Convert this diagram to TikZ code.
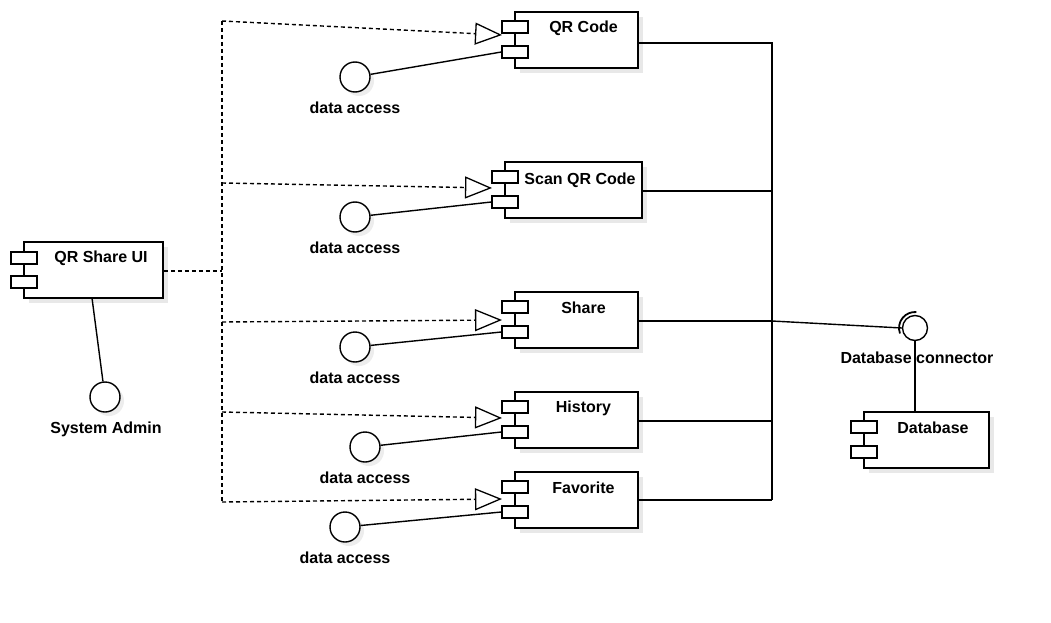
\documentclass[tikz,border=0pt]{standalone}
\usepackage{fontspec}
\setmainfont{Liberation Sans}
\usetikzlibrary{arrows.meta,shadows,calc}
\tikzset{
  comp/.style={draw, line width=1.5pt, fill=white, rectangle, minimum height=56pt, inner sep=0pt,
    drop shadow={shadow xshift=5pt, shadow yshift=-5pt, fill=black!9, opacity=1}},
  port/.style={draw, line width=1.3pt, fill=white, rectangle, minimum width=26pt, minimum height=12pt, inner sep=0pt},
  iface/.style={draw, circle, line width=1.4pt, fill=white, minimum size=30pt, inner sep=0pt,
    drop shadow={shadow xshift=4pt, shadow yshift=-4pt, fill=black!7, opacity=1}},
  sock/.style={draw, circle, line width=1.4pt, fill=white, minimum size=25pt, inner sep=0pt},
  lbl/.style={font=\fontsize{16}{19}\selectfont\bfseries, inner sep=0pt},
  wire/.style={line width=1.4pt},
  dashline/.style={line width=1.4pt, dash pattern=on 4pt off 3pt},
  dep/.style={dashline, -{Triangle[open, length=27pt, width=22pt, line width=1.3pt]}},
}
\begin{document}
\begin{tikzpicture}[x=1pt, y=-1pt]
\fill[white] (0,0) rectangle (1051,623);
\useasboundingbox (0,0) rectangle (1051,623);

% components
\node[comp, minimum width=123pt] (qr)    at (576.5,40)  {};
\node[comp, minimum width=137pt] (scan)  at (573.5,190) {};
\node[comp, minimum width=123pt] (share) at (576.5,320) {};
\node[comp, minimum width=123pt] (hist)  at (576.5,420) {};
\node[comp, minimum width=123pt] (fav)   at (576.5,500) {};
\node[comp, minimum width=139pt] (ui)    at (93.5,270)  {};
\node[comp, minimum width=125pt] (db)    at (926.5,440) {};

% ports
\node[port] (qrA)    at (515,27)  {};
\node[port] (qrB)    at (515,52)  {};
\node[port] (scanA)  at (505,177) {};
\node[port] (scanB)  at (505,202) {};
\node[port] (shareA) at (515,307) {};
\node[port] (shareB) at (515,332) {};
\node[port] (histA)  at (515,407) {};
\node[port] (histB)  at (515,432) {};
\node[port] (favA)   at (515,487) {};
\node[port] (favB)   at (515,512) {};
\node[port] (uiA)    at (24,258)  {};
\node[port] (uiB)    at (24,282)  {};
\node[port] (dbA)    at (864,427) {};
\node[port] (dbB)    at (864,452) {};

% component titles
\node[lbl] (qrT)    at (583.5,28)  {QR Code};
\node[lbl] (scanT)  at (580,180)   {Scan QR Code};
\node[lbl] (shareT) at (583.5,308) {Share};
\node[lbl] (histT)  at (583.5,408) {History};
\node[lbl] (favT)   at (583.5,488) {Favorite};
\node[lbl] (uiT)    at (101,258)   {QR Share UI};
\node[lbl] (dbT)    at (933,428)   {Database};

% provided interfaces
\node[iface] (c1) at (355,77)  {};
\node[iface] (c2) at (355,217) {};
\node[iface] (c3) at (355,347) {};
\node[iface] (c4) at (365,447) {};
\node[iface] (c5) at (345,527) {};
\node[iface] (adm) at (105,397) {};
\node[lbl] (c1T) at (355,108) {data access};
\node[lbl] (c2T) at (355,248) {data access};
\node[lbl] (c3T) at (355,378) {data access};
\node[lbl] (c4T) at (365,478) {data access};
\node[lbl] (c5T) at (345,558) {data access};
\node[lbl] (admT) at (106,429) {System Admin};

\draw[wire] (c1) -- (qrB.west);
\draw[wire] (c2) -- (scanB.west);
\draw[wire] (c3) -- (shareB.west);
\draw[wire] (c4) -- (histB.west);
\draw[wire] (c5) -- (favB.west);
\coordinate (uiBot) at (92,298);
\draw[wire] (uiBot) -- (adm);

% database connector
\node[sock] (dbc) at (915,328) {};
\draw[line width=1.8pt] (dbc.center) ++(160:16) arc[start angle=160, end angle=275, radius=16];
\node[lbl] (dbcT) at (917,358) {Database connector};

% bus on the right
\coordinate (b1) at (772,43);
\coordinate (b2) at (772,191);
\coordinate (b3) at (772,321);
\coordinate (b4) at (772,421);
\coordinate (b5) at (772,500);
\draw[wire] (qr.east |- b1) -- (b1) -- (b5);
\draw[wire] (scan.east |- b2) -- (b2);
\draw[wire] (share.east |- b3) -- (b3);
\draw[wire] (hist.east |- b4) -- (b4);
\draw[wire] (fav.east |- b5) -- (b5);
\draw[wire] (b3) -- (dbc.west);
\draw[wire] (dbc.south) -- (dbc.south |- db.north);

% dependencies (dashed)
\coordinate (u0) at (222,271);
\coordinate (d1) at (222,21);
\coordinate (d2) at (222,183);
\coordinate (d3) at (222,322);
\coordinate (d4) at (222,412);
\coordinate (d5) at (222,502);
\coordinate (t1) at (502,35);
\coordinate (t2) at (492,188);
\coordinate (t3) at (502,320);
\coordinate (t4) at (502,418);
\coordinate (t5) at (502,499);
\draw[dashline] (ui.east |- u0) -- (u0);
\draw[dashline] (d1) -- (d5);
\draw[dep] (d1) -- (t1);
\draw[dep] (d2) -- (t2);
\draw[dep] (d3) -- (t3);
\draw[dep] (d4) -- (t4);
\draw[dep] (d5) -- (t5);
\end{tikzpicture}
\end{document}
